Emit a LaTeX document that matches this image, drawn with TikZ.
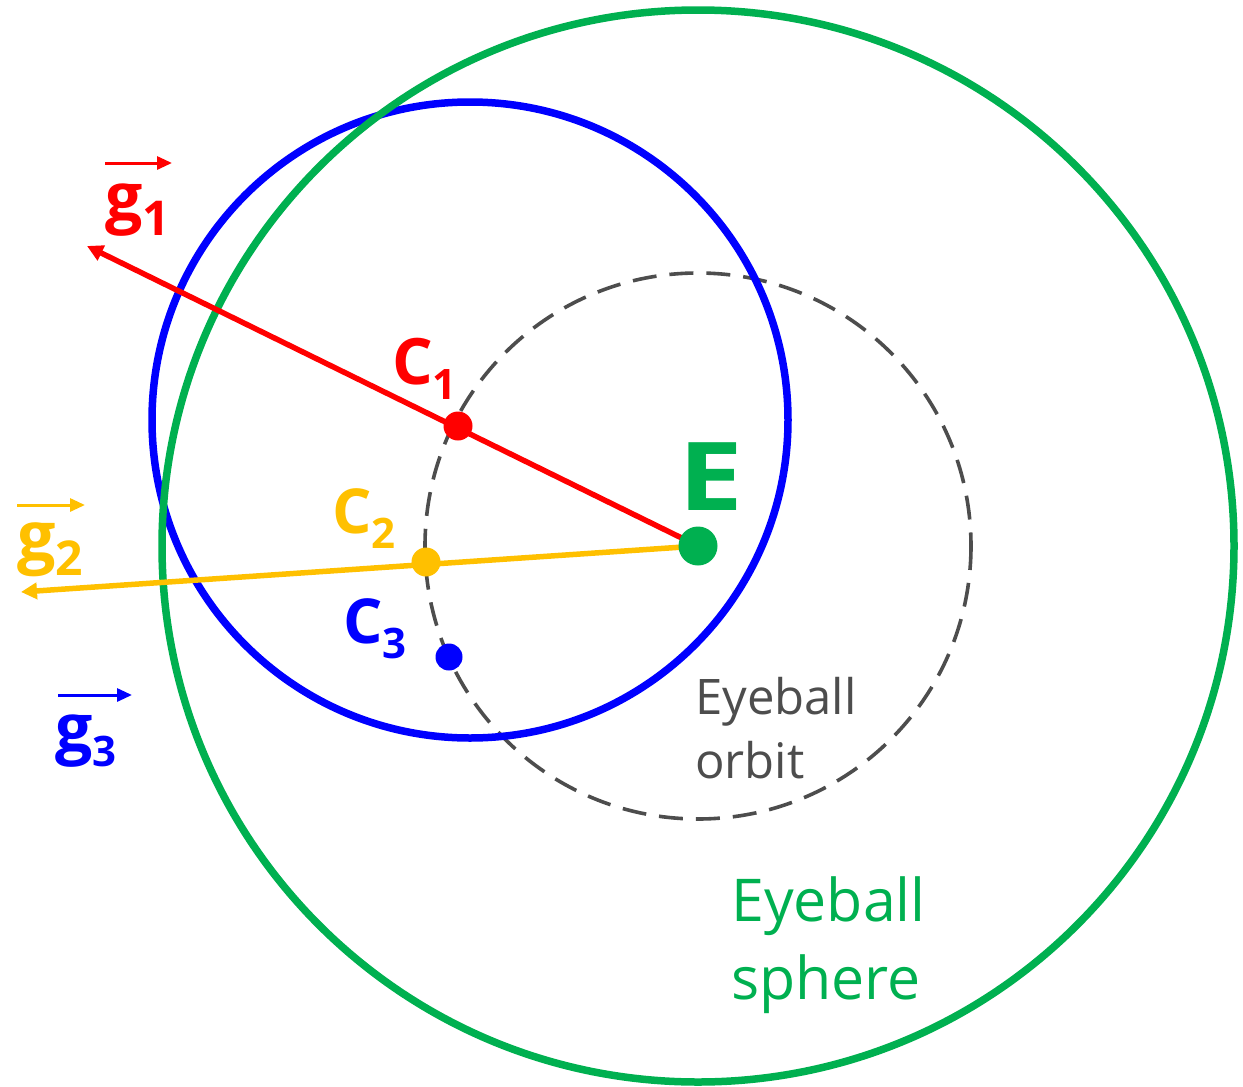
\documentclass[tikz,border=0pt]{standalone}
\usepackage{fontspec}
\setmainfont{Open Sans}
\usetikzlibrary{arrows.meta}
\definecolor{rayred}{RGB}{255,0,0}
\definecolor{rayblue}{RGB}{0,0,255}
\definecolor{eyegreen}{RGB}{0,176,80}
\definecolor{rayyellow}{RGB}{255,192,0}
\definecolor{orbitgray}{RGB}{77,77,77}
% big bold letter with a dropped subscript
\newcommand\sublabel[4]{{\fontsize{#1}{#1}\selectfont\bfseries #3}\raisebox{-15pt}{\fontsize{#2}{#2}\selectfont\bfseries #4}}
\begin{document}
\begin{tikzpicture}[x=1pt,y=-1pt,
  dot/.style={circle,fill,inner sep=0pt,minimum size=#1},
  ray/.style={line width=5.5pt,-{Triangle[length=16pt,width=16pt]}},
  vecbar/.style={line width=3pt,-{Triangle[length=15pt,width=13pt]}},
  lbl/.style={anchor=base west,inner sep=0pt}]
  \useasboundingbox (0,0) rectangle (1243,1087);
  % circles
  \draw[orbitgray, line width=3.6pt, dash pattern=on 24pt off 13pt] (698,546) circle (273);
  \draw[rayblue, line width=7.5pt] (470,420) circle (318);
  \draw[eyegreen, line width=7.5pt] (698,546) circle (536);
  % rays from the eyeball centre
  \coordinate (Ec) at (698,546);
  \coordinate (g1tip) at (87,246);
  \coordinate (g2tip) at (21,592);
  \draw[ray, rayred] (Ec) -- (g1tip);
  \draw[ray, rayyellow] (Ec) -- (g2tip);
  % points
  \node[dot=39pt, eyegreen] (E) at (Ec) {};
  \node[dot=29pt, rayred] (C1) at (458,426) {};
  \node[dot=29pt, rayyellow] (C2) at (426,562) {};
  \node[dot=27pt, rayblue] (C3) at (449,657) {};
  % labels
  \node[lbl, eyegreen] (Elbl) at (678,510) {\scalebox{1.22}[1]{\fontsize{95}{95}\selectfont\bfseries E}};
  \node[lbl, rayred] (C1lbl) at (392,384) {\sublabel{64}{42}{C}{1}};
  \node[lbl, rayyellow] (C2lbl) at (332,533) {\sublabel{62}{42}{C}{2}};
  \node[lbl, rayblue] (C3lbl) at (343,643) {\sublabel{62}{42}{C}{3}};
  \node[lbl, rayred] (g1lbl) at (105,220) {\sublabel{66}{48}{g}{1}};
  \node[lbl, rayyellow] (g2lbl) at (17,560) {\sublabel{68}{48}{g}{2}};
  \node[lbl, rayblue] (g3lbl) at (55,751) {\sublabel{66}{42}{g}{3}};
  \draw[vecbar, rayred] (105,163) -- (172,163);
  \draw[vecbar, rayyellow] (17,505) -- (85,505);
  \draw[vecbar, rayblue] (58,695) -- (132,695);
  \node[anchor=north west, inner sep=0pt, align=left, orbitgray,
        font=\fontsize{49}{64}\selectfont] (orbit) at (695,677) {Eyeball\\orbit};
  \node[anchor=north west, inner sep=0pt, align=left, eyegreen,
        font=\fontsize{59}{78}\selectfont] (sphere) at (731,876) {Eyeball\\sphere};
\end{tikzpicture}
\end{document}
